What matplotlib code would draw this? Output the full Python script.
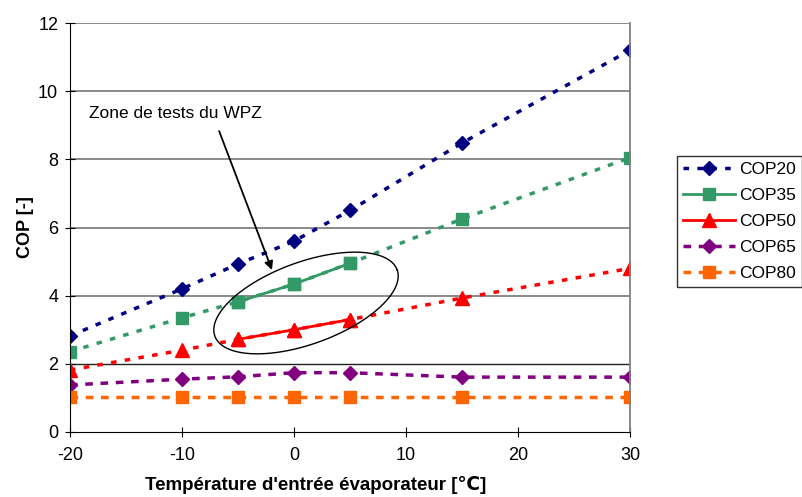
import numpy as np
import matplotlib.pyplot as plt

plt.rcParams['font.family'] = ['Liberation Sans', 'DejaVu Sans']
plt.rcParams['axes.unicode_minus'] = False

# Temperature d'entree evaporateur [C]
temps = [-20, -10, -5, 0, 5, 15, 30]
cop20 = [2.82, 4.2, 4.93, 5.6, 6.5, 8.48, 11.2]
cop35 = [2.36, 3.35, 3.82, 4.34, 4.95, 6.25, 8.05]
cop50 = [1.82, 2.4, 2.72, 3.0, 3.3, 3.93, 4.8]
cop65 = [1.38, 1.55, 1.62, 1.74, 1.74, 1.61, 1.61]
cop80 = [1.03, 1.03, 1.03, 1.03, 1.03, 1.03, 1.03]
labels = ['COP20', 'COP35', 'COP50', 'COP65', 'COP80']

fig = plt.figure(figsize=(8.03, 4.97), dpi=100)
ax = fig.add_axes([70/803, 65/497, 560/803, 409/497])

navy, green, red, purple, orange = '#000080', '#339966', '#ff0000', '#800080', '#ff6600'
dots = (0, (1.6, 2.4))
dash = (0, (2.2, 2.2))

ax.plot(temps, cop20, color=navy, ls=dots, lw=2.5, marker='D', ms=7, label=labels[0])
# dotted everywhere, solid inside the WPZ test zone (-5..5)
ax.plot(temps, cop35, color=green, ls=dots, lw=2.5, marker='s', ms=9)
ax.plot(temps[2:5], cop35[2:5], color=green, lw=2, marker='s', ms=9, label=labels[1])
ax.plot(temps, cop50, color=red, ls=dots, lw=2.5, marker='^', ms=10)
ax.plot(temps[2:5], cop50[2:5], color=red, lw=2, marker='^', ms=10, label=labels[2])
ax.plot(temps, cop65, color=purple, ls=dash, lw=2.5, marker='D', ms=7, label=labels[3])
ax.plot(temps, cop80, color=orange, ls=dash, lw=2.5, marker='s', ms=9, label=labels[4])

ax.set_xlim(-20, 30)
ax.set_ylim(0, 12)
ax.set_xticks(range(-20, 31, 10))
ax.set_yticks(range(0, 13, 2))
for y in [4, 6, 8, 10, 12]:
    ax.axhline(y, color='#808080', lw=1.3, zorder=0)
ax.axhline(2, color='#222222', lw=1, zorder=0)

ax.spines['right'].set_color('#808080')
ax.spines['right'].set_linewidth(1.3)
ax.spines['top'].set_visible(False)
ax.tick_params(direction='inout', length=7, labelsize=13, pad=5)
ax.tick_params(axis='x', pad=7)

ax.set_xlabel("Température d'entrée évaporateur [℃]", fontsize=13.5, fontweight='bold')
ax.xaxis.set_label_coords((316 - 70) / 560, -0.108)
ax.set_ylabel('COP [-]', fontsize=13, fontweight='bold', labelpad=3)

# ellipse around the test zone, drawn in pixel space then mapped to axes fraction
t = np.linspace(0, 2 * np.pi, 200)
a, b, th = 97, 41, np.deg2rad(20)
cx, cy = 306 - 70, 497 - 303 - 65
px = cx + a * np.cos(t) * np.cos(th) - b * np.sin(t) * np.sin(th)
py = cy + a * np.cos(t) * np.sin(th) + b * np.sin(t) * np.cos(th)
ax.plot(px / 560, py / 409, color='black', lw=1, transform=ax.transAxes, clip_on=False)

ax.annotate('Zone de tests du WPZ', xy=((272 - 70) / 560, (497 - 270 - 65) / 409),
            xytext=((89 - 70) / 560, (497 - 113 - 65) / 409), xycoords='axes fraction',
            textcoords='axes fraction', fontsize=12.5, va='center',
            arrowprops=dict(arrowstyle='-|>', color='black', lw=1.3, shrinkA=6, shrinkB=0,
                            relpos=(0.73, 0)))

leg = fig.legend(loc='upper left', bbox_to_anchor=(677/803, 1 - 156/497), fontsize=12.5,
                 frameon=True, fancybox=False, edgecolor='black', handlelength=3.0,
                 borderpad=0.35, labelspacing=0.62, handletextpad=0.2, borderaxespad=0)
leg.get_frame().set_linewidth(1)

fig.savefig('out.png', dpi=100)
